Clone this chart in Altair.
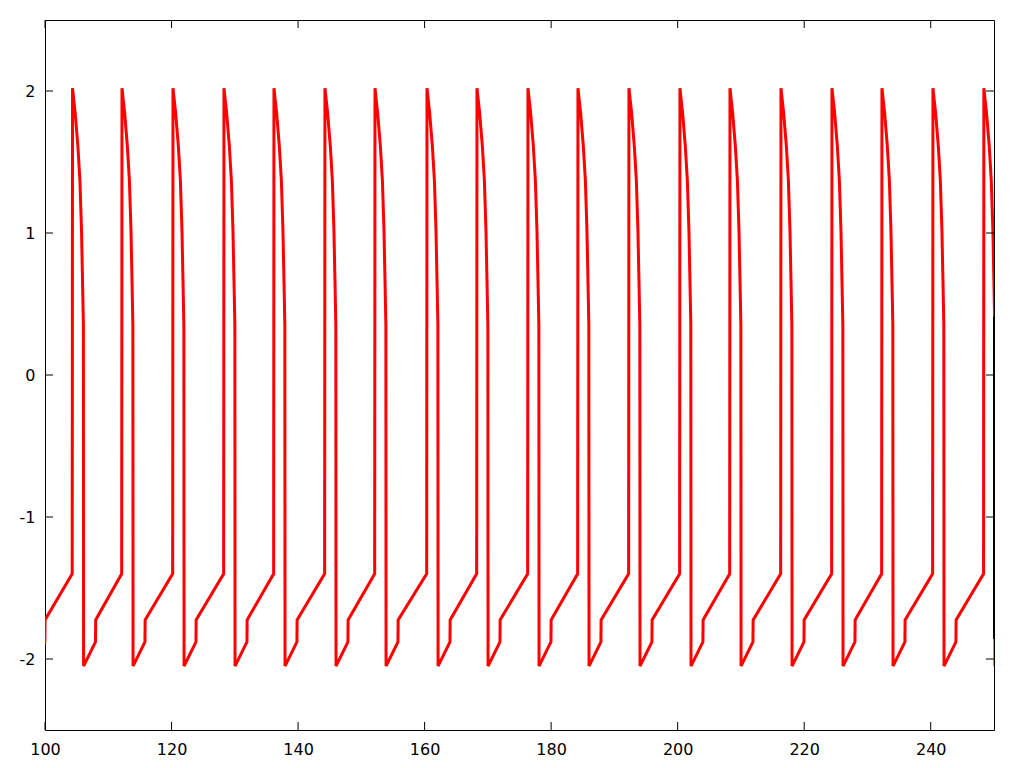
import altair as alt
import pandas as pd

# Times of the spike tops
spike_times = [96.35, 104.35, 112.17, 120.23, 128.29, 136.19, 144.25, 152.16, 160.38,
               168.28, 176.34, 184.24, 192.30, 200.36, 208.27, 216.33, 224.39, 232.29,
               240.35, 248.40]
# Shape of one cycle, as offsets from the spike top
cycle_offsets = [-0.05, 0.0, 0.43, 0.85, 1.17, 1.42, 1.58, 1.72, 1.75, 3.63, 3.66]
cycle_values = [-1.40, 2.02, 1.84, 1.61, 1.37, 1.02, 0.67, 0.35, -2.05, -1.88, -1.725]

# Black trace visible at the right edge
end_t = [250.0, 250.0]
end_v = [0.41, -1.86]

x_ticks = [100, 120, 140, 160, 180, 200, 220, 240]
y_ticks = [-2, -1, 0, 1, 2]

rows = []
i = 0
for t0 in spike_times:
    for o, v in zip(cycle_offsets, cycle_values):
        rows.append({"t": round(t0 + o, 4), "v": v, "i": i})
        i += 1
df = pd.DataFrame(rows)
df_end = pd.DataFrame({"t": end_t, "v": end_v, "i": [0, 1]})

W, H = 949, 710
xs = alt.Scale(domain=[100, 250], nice=False, zero=False)
ys = alt.Scale(domain=[-2.5, 2.5], nice=False, zero=False)

xaxis = alt.Axis(values=x_ticks, title=None, ticks=False, tickSize=0, domain=False,
                 grid=False, labelFontSize=16, labelFont="DejaVu Sans", format="d",
                 labelColor="black", labelPadding=11, labelFlush=False)
yaxis = alt.Axis(values=y_ticks, title=None, ticks=False, tickSize=0, domain=False,
                 grid=False, labelFontSize=16, labelFont="DejaVu Sans",
                 labelExpr="datum.value < 0 ? '-' + abs(datum.value) : '' + datum.value",
                 labelColor="black", labelPadding=10)

red = alt.Chart(df).mark_line(color="#ff0000", strokeWidth=3, clip=True).encode(
    x=alt.X("t:Q", scale=xs, axis=xaxis),
    y=alt.Y("v:Q", scale=ys, axis=yaxis),
    order=alt.Order("i:Q"),
)
black = alt.Chart(df_end).mark_line(color="black", strokeWidth=2, clip=True).encode(
    x=alt.X("t:Q", scale=xs),
    y=alt.Y("v:Q", scale=ys),
    order=alt.Order("i:Q"),
)

xt = pd.DataFrame({"x": x_ticks})
yt = pd.DataFrame({"y": y_ticks})
tb = alt.Chart(xt).mark_rule(color="black", strokeWidth=1).encode(
    x=alt.X("x:Q", scale=xs), y=alt.value(H), y2=alt.value(H - 8))
tt = alt.Chart(xt).mark_rule(color="black", strokeWidth=1).encode(
    x=alt.X("x:Q", scale=xs), y=alt.value(0), y2=alt.value(8))
tl = alt.Chart(yt).mark_rule(color="black", strokeWidth=1).encode(
    y=alt.Y("y:Q", scale=ys), x=alt.value(0), x2=alt.value(8))
tr = alt.Chart(yt).mark_rule(color="black", strokeWidth=1).encode(
    y=alt.Y("y:Q", scale=ys), x=alt.value(W), x2=alt.value(W - 8))

chart = alt.layer(red, black, tb, tt, tl, tr).properties(
    width=W, height=H,
    autosize=alt.AutoSizeParams(type="none"),
    padding={"left": 37, "top": 12, "right": 22, "bottom": 30},
    background="white",
).configure_view(stroke="black", strokeWidth=1)

chart.save("out.html", embed_options={"renderer": "svg", "actions": False})
